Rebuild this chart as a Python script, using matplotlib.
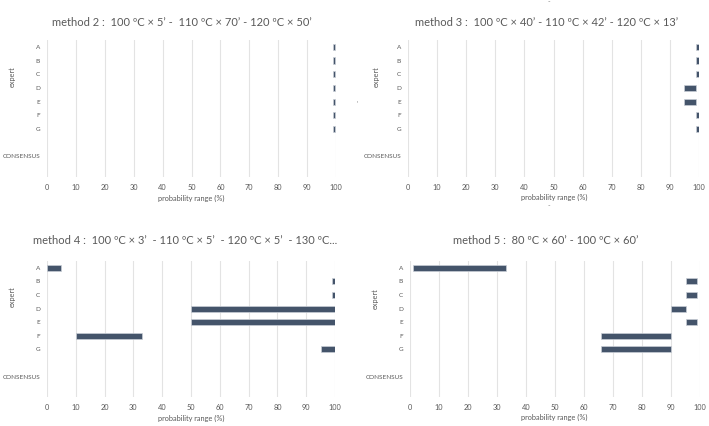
import matplotlib
matplotlib.use("Agg")
import matplotlib.pyplot as plt
import numpy as np

categories = ["A", "B", "C", "D", "E", "F", "G", "", "CONSENSUS", " "]
experts = ["A", "B", "C", "D", "E", "F", "G"]

titles = [
    "method 2 :  100 ºC × 5’ -  110 ºC × 70’ - 120 ºC × 50’",
    "method 3 :  100 ºC × 40’ - 110 ºC × 42’ - 120 ºC × 13’",
    "method 4 :  100 ºC × 3’  - 110 ºC × 5’  - 120 ºC × 5’  - 130 ºC...",
    "method 5 :  80 ºC × 60’ - 100 ºC × 60’",
]

m2_low = [99.0, 99.0, 99.0, 99.0, 99.0, 99.0, 99.0]
m2_high = [99.7, 99.7, 99.7, 99.7, 99.7, 99.7, 99.7]
m3_low = [99.0, 99.0, 99.0, 95.0, 95.0, 99.0, 99.0]
m3_high = [100.0, 100.0, 100.0, 99.0, 99.0, 100.0, 100.0]
m4_low = [0.0, 99.0, 99.0, 50.0, 50.0, 10.0, 95.0]
m4_high = [5.0, 100.0, 100.0, 100.0, 100.0, 33.0, 100.0]
m5_low = [1.0, 95.0, 95.0, 90.0, 95.0, 66.0, 66.0]
m5_high = [33.0, 99.0, 99.0, 95.0, 99.0, 90.0, 90.0]

lows = [m2_low, m3_low, m4_low, m5_low]
highs = [m2_high, m3_high, m4_high, m5_high]
xticks = [0, 10, 20, 30, 40, 50, 60, 70, 80, 90, 100]

plt.rcParams['font.family'] = ['Lato', 'DejaVu Sans']
W, H = 709, 426
fig = plt.figure(figsize=(W / 100, H / 100), dpi=100)

# axes boxes in pixels: (x0, x1, top, bottom)
boxes = [(47, 336, 40, 177), (408, 699, 40, 177), (47, 335, 261, 397), (410, 700, 261, 397)]
title_pos = [(182, 22), (547, 22), (185, 241), (546, 241)]
ylab_pos = [(12, 77), (376, 77), (12, 297), (375, 299)]
xlab_pos = [(191, 198), (554, 197), (191, 418), (554, 417)]

bar_color = "#44546A"
txt = "#595959"

for i in range(4):
    x0, x1, t, b = boxes[i]
    ax = fig.add_axes([x0 / W, (H - b) / H, (x1 - x0) / W, (b - t) / H])
    ypos = np.arange(len(categories))
    lo = np.array(lows[i])
    hi = np.array(highs[i])
    ax.barh(np.arange(len(experts)), hi - lo, left=lo, height=0.45,
            color=bar_color, edgecolor="#c9ced6", linewidth=0.5, zorder=3)
    ax.set_yticks(ypos)
    ax.set_yticklabels(categories, fontsize=4.6, color=txt)
    ax.set_ylim(len(categories) - 0.5, -0.5)
    ax.set_xlim(0, 100)
    ax.set_xticks(xticks)
    ax.set_xticklabels([str(v) for v in xticks], fontsize=5.3, color=txt)
    ax.tick_params(axis='both', length=0)
    ax.tick_params(axis='x', pad=5)
    ax.tick_params(axis='y', pad=5)
    for s in ax.spines.values():
        s.set_visible(False)
    ax.grid(axis='x', color="#e3e3e3", linewidth=0.8, zorder=0)
    ax.set_axisbelow(True)
    tx, ty = title_pos[i]
    fig.text(tx / W, 1 - ty / H, titles[i], ha='center', va='center', fontsize=8.0, color=txt)
    lx, ly = ylab_pos[i]
    fig.text(lx / W, 1 - ly / H, "expert", ha='center', va='center', rotation=90, fontsize=5.2, color=txt)
    px, py = xlab_pos[i]
    fig.text(px / W, 1 - py / H, "probability range (%)", ha='center', va='center', fontsize=5.3, color=txt)

# small stray marks seen in the reference
fig.text(357 / W, 1 - 104 / H, "'", ha='center', va='center', fontsize=5, color="#888888")
fig.text(549 / W, 1 - 2 / H, "-", ha='center', va='center', fontsize=5, color="#888888")
fig.text(549 / W, 1 - 206 / H, "-", ha='center', va='center', fontsize=5, color="#888888")

fig.savefig("out.png", dpi=100, facecolor="white")
